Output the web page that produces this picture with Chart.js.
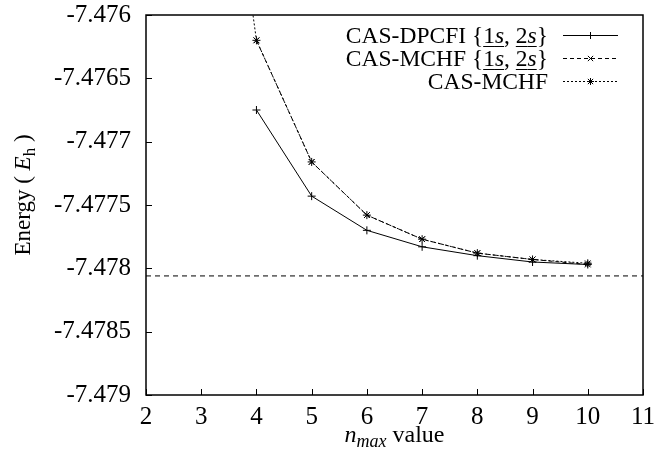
<!DOCTYPE html>
<html>
<head>
<meta charset="utf-8">
<script src="https://cdn.jsdelivr.net/npm/chart.js@4.4.1/dist/chart.umd.min.js"></script>
<style>
  body { margin: 0; background: #fff; }
  #wrap { width: 654px; height: 461px; }
</style>
</head>
<body>
<div id="wrap"><canvas id="myChart" width="654" height="461"></canvas></div>
<script>
// n_max values and energies (Hartree)
var nValues = [3, 4, 5, 6, 7, 8, 9, 10];
var dpcfiEnergy = [null, -7.47675, -7.47743, -7.4777, -7.47783, -7.4779, -7.47795, -7.47797];
var mchfSubEnergy = [null, -7.4762, -7.47716, -7.47758, -7.47777, -7.47788, -7.47793, -7.47797];
var casMchfEnergy = [-7.473, -7.4762, -7.47716, -7.47758, -7.47777, -7.47788, -7.47793, -7.47796];
var refEnergy = -7.47806;

var xTicks = [2, 3, 4, 5, 6, 7, 8, 9, 10, 11];
var yTicks = [-7.479, -7.4785, -7.478, -7.4775, -7.477, -7.4765, -7.476];

var serif = "'Liberation Serif', 'DejaVu Serif', serif";

function toPoints(ys) {
  var pts = [];
  for (var i = 0; i < nValues.length; i++) {
    if (ys[i] !== null) pts.push({ x: nValues[i], y: ys[i] });
  }
  return pts;
}

// little helper for mixed-style text runs (italic / subscript / underline)
function runWidth(ctx, runs) {
  var w = 0;
  runs.forEach(function (r) {
    ctx.font = (r.italic ? "italic " : "") + r.size + "px " + serif;
    w += ctx.measureText(r.text).width;
  });
  return w;
}
function drawRuns(ctx, runs, x, y) {
  runs.forEach(function (r) {
    ctx.font = (r.italic ? "italic " : "") + r.size + "px " + serif;
    var w = ctx.measureText(r.text).width;
    ctx.fillText(r.text, x, y + (r.dy || 0));
    if (r.underline) {
      ctx.fillRect(x, y + 3, w, 1);
    }
    x += w;
  });
}

function drawMarker(ctx, style, x, y, r) {
  ctx.beginPath();
  if (style === "cross" || style === "star") {
    ctx.moveTo(x - r, y); ctx.lineTo(x + r, y);
    ctx.moveTo(x, y - r); ctx.lineTo(x, y + r);
  }
  if (style === "crossRot" || style === "star") {
    var d = r * 0.75;
    ctx.moveTo(x - d, y - d); ctx.lineTo(x + d, y + d);
    ctx.moveTo(x - d, y + d); ctx.lineTo(x + d, y - d);
  }
  ctx.stroke();
}

var legendItems = [
  { runs: [
      { text: "CAS-DPCFI {", size: 23.5 },
      { text: "1", size: 23.5, underline: true }, { text: "s", size: 23.5, italic: true, underline: true },
      { text: ", ", size: 23.5 },
      { text: "2", size: 23.5, underline: true }, { text: "s", size: 23.5, italic: true, underline: true },
      { text: "}", size: 23.5 }],
    dash: [], marker: "cross" },
  { runs: [
      { text: "CAS-MCHF {", size: 23.5 },
      { text: "1", size: 23.5, underline: true }, { text: "s", size: 23.5, italic: true, underline: true },
      { text: ", ", size: 23.5 },
      { text: "2", size: 23.5, underline: true }, { text: "s", size: 23.5, italic: true, underline: true },
      { text: "}", size: 23.5 }],
    dash: [4, 3], marker: "crossRot" },
  { runs: [{ text: "CAS-MCHF", size: 23.5 }], dash: [2, 2], marker: "star" }
];

var gnuplotLook = {
  id: "gnuplotLook",
  afterDatasetsDraw: function (chart) {
    var ctx = chart.ctx;
    var a = chart.chartArea;
    var xs = chart.scales.x, ys = chart.scales.y;
    ctx.save();
    ctx.strokeStyle = "#000";
    ctx.fillStyle = "#000";
    // frame
    ctx.lineWidth = 1.5;
    ctx.strokeRect(a.left, a.top, a.right - a.left, a.bottom - a.top);
    // inward ticks
    ctx.lineWidth = 1;
    ctx.beginPath();
    xTicks.forEach(function (v) {
      var px = Math.round(xs.getPixelForValue(v)) + 0.5;
      ctx.moveTo(px, a.bottom); ctx.lineTo(px, a.bottom - 6);
    });
    yTicks.forEach(function (v) {
      var py = Math.round(ys.getPixelForValue(v)) + 0.5;
      ctx.moveTo(a.left, py); ctx.lineTo(a.left + 6, py);
    });
    ctx.stroke();

    // legend
    ctx.textBaseline = "alphabetic";
    legendItems.forEach(function (it, i) {
      var cy = 35 + i * 23;
      var w = runWidth(ctx, it.runs);
      drawRuns(ctx, it.runs, 548 - w, cy + 8);
      ctx.lineWidth = 1;
      ctx.setLineDash(it.dash);
      ctx.beginPath();
      ctx.moveTo(563, cy + 0.5); ctx.lineTo(618, cy + 0.5);
      ctx.stroke();
      ctx.setLineDash([]);
      drawMarker(ctx, it.marker, 590.5, cy + 0.5, 3.5);
    });

    // x title: n_max value
    var xt = [
      { text: "n", size: 24, italic: true },
      { text: "max", size: 18, italic: true, dy: 5 },
      { text: " value", size: 24 }
    ];
    var xw = runWidth(ctx, xt);
    drawRuns(ctx, xt, (a.left + a.right) / 2 - xw / 2, 442);

    // y title: Energy ( E_h )
    var yt = [
      { text: "Energy ( ", size: 23 },
      { text: "E", size: 23, italic: true },
      { text: "h", size: 17, dy: 5 },
      { text: " )", size: 23 }
    ];
    var yw = runWidth(ctx, yt);
    ctx.translate(30, 195);
    ctx.rotate(-Math.PI / 2);
    drawRuns(ctx, yt, -yw / 2, 0);
    ctx.restore();
  }
};

var ctx = document.getElementById("myChart").getContext("2d");

var myChart = new Chart(ctx, {
  type: "line",
  data: {
    datasets: [
      {
        label: "CAS-DPCFI {1s, 2s}",
        data: toPoints(dpcfiEnergy),
        borderColor: "#000",
        backgroundColor: "#000",
        borderWidth: 1,
        pointStyle: "cross",
        pointRadius: 4,
        pointBorderWidth: 1,
        tension: 0,
      },
      {
        label: "CAS-MCHF {1s, 2s}",
        data: toPoints(mchfSubEnergy),
        borderColor: "#000",
        backgroundColor: "#000",
        borderWidth: 1,
        borderDash: [4, 3],
        pointStyle: "crossRot",
        pointRadius: 4,
        pointBorderWidth: 1,
        tension: 0,
      },
      {
        label: "CAS-MCHF",
        data: toPoints(casMchfEnergy),
        borderColor: "#000",
        backgroundColor: "#000",
        borderWidth: 1,
        borderDash: [2, 2],
        pointStyle: "star",
        pointRadius: 4,
        pointBorderWidth: 1,
        tension: 0,
      },
      {
        label: "reference",
        data: [{ x: 2, y: refEnergy }, { x: 11, y: refEnergy }],
        borderColor: "#000",
        borderWidth: 1,
        borderDash: [5, 4],
        pointRadius: 0,
        tension: 0,
      },
    ],
  },
  options: {
    responsive: false,
    animation: false,
    events: [],
    layout: { padding: { top: 15, right: 11, left: 0, bottom: 0 } },
    plugins: {
      legend: { display: false },
      tooltip: { enabled: false },
    },
    scales: {
      x: {
        type: "linear",
        min: 2,
        max: 11,
        grid: { display: false, drawTicks: false },
        border: { display: false },
        afterBuildTicks: function (scale) {
          scale.ticks = xTicks.map(function (v) { return { value: v }; });
        },
        afterFit: function (scale) {
          scale.height = 66;
          scale.paddingLeft = 0;
          scale.paddingRight = 0;
        },
        ticks: {
          color: "#000",
          padding: 7,
          maxRotation: 0,
          font: { family: serif, size: 25 },
          callback: function (v) { return String(v); },
        },
      },
      y: {
        type: "linear",
        min: -7.479,
        max: -7.476,
        grid: { display: false, drawTicks: false },
        border: { display: false },
        afterBuildTicks: function (scale) {
          scale.ticks = yTicks.map(function (v) { return { value: v }; });
        },
        afterFit: function (scale) {
          scale.width = 146;
          scale.paddingTop = 0;
          scale.paddingBottom = 0;
        },
        ticks: {
          color: "#000",
          padding: 15,
          font: { family: serif, size: 25 },
          callback: function (v) { return String(parseFloat(v.toFixed(4))); },
        },
      },
    },
  },
  plugins: [gnuplotLook],
});
</script>
</body>
</html>
